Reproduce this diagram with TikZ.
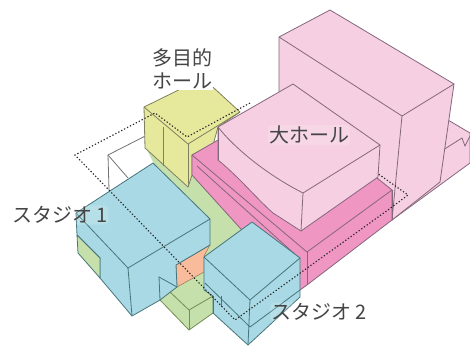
\documentclass[tikz,border=0pt]{standalone}
\usepackage{fontspec}
\newfontfamily\jpfont{Noto Sans CJK JP}
\definecolor{lpink}{HTML}{F6D0E2}
\definecolor{dpink}{HTML}{EF96C2}
\definecolor{yel}{HTML}{E6E99C}
\definecolor{teal1}{HTML}{A9D9E4}
\definecolor{grn}{HTML}{C6E0AC}
\definecolor{org}{HTML}{F8BC9C}
\definecolor{pinkline}{HTML}{85677C}
\definecolor{tealline}{HTML}{47757C}
\definecolor{yelline}{HTML}{7F8060}
\definecolor{txt}{HTML}{454545}
\tikzset{
 lp/.style={fill=lpink,draw=pinkline,line width=.8pt,line join=round},
 pl/.style={draw=pinkline,line width=.8pt},
 dp/.style={fill=dpink,draw=pinkline,line width=.8pt,line join=round},
 yb/.style={fill=yel,draw=yelline,line width=.8pt,line join=round},
 yl/.style={draw=yelline,line width=.8pt},
 tb/.style={fill=teal1,draw=tealline,line width=.8pt,line join=round},
 tl/.style={draw=tealline,line width=.8pt},
 gl/.style={draw=yelline!90!green,line width=.8pt,line join=round},
 dots/.style={draw=black!85,line width=1.1pt,dash pattern=on 1.3pt off 2pt},
 wl/.style={draw=black!55,line width=.8pt},
 lab/.style={font=\jpfont\fontsize{20}{20}\selectfont,text=txt,inner sep=1pt},
 halo/.style={fill=white,fill opacity=.16,text opacity=1,rounded corners=4pt}
}
\begin{document}
\begin{tikzpicture}[x=1pt,y=-1pt]
\useasboundingbox (0,0) rectangle (470,345);
\fill[white] (0,0) rectangle (470,345);
% low extension at the right
\path[lp] (448,120) -- (470,133) -- (470,163) -- (392,220) -- (392,150) -- cycle;
\draw[pl] (443,150) -- (462,138) -- (465,146) -- (470,136);
% tall block
\path[lp] (279,37) -- (330,10) -- (454,84) -- (440,182) -- (392,220) -- (380,200) -- (279,110) -- cycle;
\draw[pl] (279,37) -- (402,116) -- (454,84);
\draw[pl] (402,116) -- (392,220);
% green floor
\fill[grn] (147,150) -- (192,170) -- (245,228) -- (204,258) -- (204,275) -- (177,290) -- (160,280) -- (154,164) -- cycle;
% white box
\draw[wl] (108,155) -- (163,127);
\draw[wl] (108,155) -- (109,190);
\draw[wl] (108,155) -- (128,178);
% yellow block
\path[yb] (144,107) -- (203,78) -- (240,112) -- (218,127) -- (213,145) -- (192,155) -- (192,175) -- (188,187) -- (145,148) -- cycle;
\draw[yl] (144,107) -- (188,144) -- (240,112);
\draw[yl] (188,144) -- (188,187);
\draw[yl] (163,127) -- (163,166);
% dark pink block
\path[dp] (192,155) -- (218,140) -- (377,178) -- (392,190) -- (392,220) -- (307,285) -- (300,290) -- (240,228) -- (192,175) -- cycle;
\draw[pl] (192,155) -- (307,252) -- (392,190);
\draw[pl] (307,252) -- (307,285);
\draw[pl] (197,166) -- (298,257);
\draw[pl] (392,190) -- (392,220);
% big hall
\path[lp] (218,127) -- (293,84) -- (380,145) -- (378,177) -- (301,231) -- (273,213) .. controls (255,197) and (240,178) .. (218,160) -- cycle;
\path[pl] (218,127) .. controls (232,145) and (262,172) .. (303,193) -- (380,145);
\draw[pl] (303,193) -- (301,231);
\draw[pl] (218,127) -- (218,160);
% green low block
\fill[grn] (160,300) -- (177,287) -- (204,272) -- (213,295) -- (213,313) -- (189,330) -- cycle;
\draw[gl] (160,300) -- (189,330) -- (213,313);
\draw[gl] (170,292) -- (189,310) -- (213,296);
\draw[gl] (189,310) -- (189,330);
% orange
\path[fill=org,draw=tealline!60!orange,line width=.5pt] (176,265) -- (210,245) -- (204,256) -- (204,272) -- (177,287) -- cycle;
% studio 1
\path[tb] (76,213) -- (153,163) -- (210,219) -- (210,245) -- (176,265) -- (177,287) -- (160,300) -- (132,316) -- (100,278) -- (100,258) -- (77,235) -- cycle;
\fill[grn] (77,235) -- (100,258) -- (100,278) -- (78,253) -- cycle;
\draw[tl] (77,235) -- (100,258) -- (100,278) -- (78,253) -- (77,235);
\draw[tl] (76,213) -- (128,268) -- (210,219);
\draw[tl] (128,268) -- (132,316);
\draw[tl] (160,300) -- (159,277) -- (177,287);
% studio 2
\path[tb] (204,257) -- (252,222) -- (300,258) -- (300,297) -- (248,345) -- (213,313) -- (213,296) -- (204,290) -- cycle;
\draw[tl] (204,257) -- (250,300) -- (300,258);
\draw[tl] (250,300) -- (248,345);
\draw[tl] (250,327) -- (300,290);
\draw[tl] (205,283) -- (250,327);
\draw[tl] (213,296) -- (213,313);
\draw[tl] (221,296) -- (221,307);
% dotted site outline
\draw[dots] (250,103) -- (187,137) -- (155,113) -- (75,155) -- (235,320) -- (392,207) -- (408,195) -- (377,173);
% labels
\node[lab] (tamoku) at (182.5,58) {多目的};
\node[lab,fill=white] (hall) at (182,81) {ホール};
\node[lab,halo] (dai) at (309,135) {大ホール};
\node[lab,halo] (st1) at (60,215) {スタジオ\hspace{4pt}1};
\node[lab,halo] (st2) at (319,312) {スタジオ\hspace{4pt}2};
\end{tikzpicture}
\end{document}
